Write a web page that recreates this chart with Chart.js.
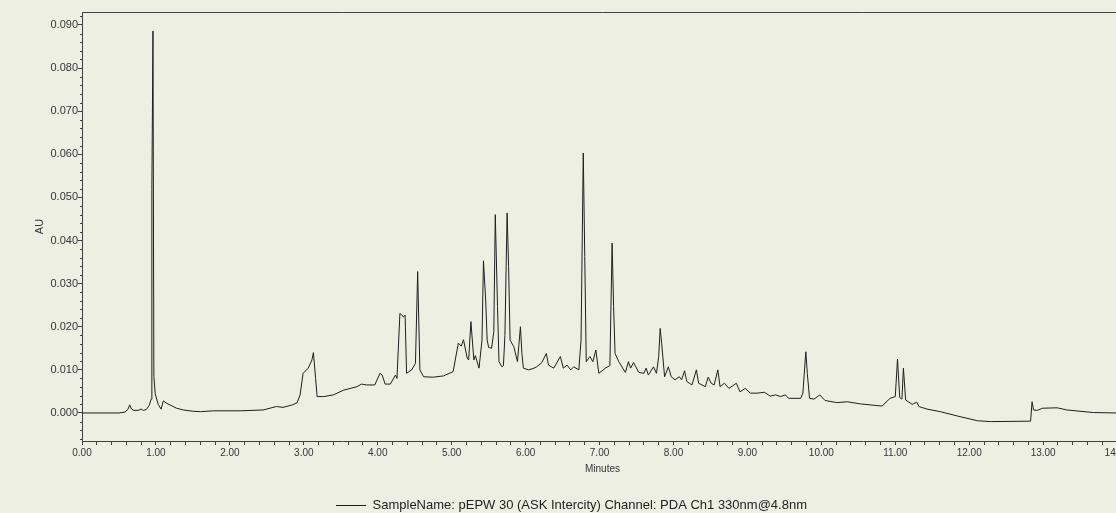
<!DOCTYPE html>
<html>
<head>
<meta charset="utf-8">
<script src="https://cdn.jsdelivr.net/npm/chart.js"></script>
<style>
  html, body { margin: 0; padding: 0; background: #ECEFE1; overflow: hidden; }
  #wrap { width: 1123px; height: 522px; }
</style>
</head>
<body>
<div id="wrap"><canvas id="chrom" width="1123" height="522"></canvas></div>
<script>
// retention time (minutes) and absorbance (AU)
const minutes = [
  0.00, 0.50, 0.58, 0.62, 0.645, 0.67, 0.70, 0.76, 0.80, 0.83, 0.87, 0.91, 0.935, 0.945, 0.96, 0.972, 0.99,
  1.03, 1.07, 1.10, 1.15, 1.28, 1.37, 1.50, 1.60, 1.78, 2.14, 2.45, 2.63, 2.72, 2.85, 2.91, 2.95, 2.99,
  3.06, 3.11, 3.13, 3.16, 3.18, 3.27, 3.40, 3.54, 3.72, 3.78, 3.85, 3.96,
  4.03, 4.06, 4.10, 4.17, 4.24, 4.26, 4.30, 4.35, 4.37, 4.39, 4.46, 4.51, 4.54, 4.57, 4.62, 4.75, 4.89,
  5.02, 5.09, 5.13, 5.16, 5.21, 5.23, 5.26, 5.30, 5.32, 5.37, 5.41, 5.43, 5.46, 5.48, 5.50, 5.54, 5.57,
  5.59, 5.62, 5.64, 5.68, 5.70, 5.72, 5.75, 5.77, 5.79, 5.84, 5.89, 5.93, 5.95, 5.97,
  6.04, 6.10, 6.15, 6.22, 6.28, 6.31, 6.38, 6.47, 6.51, 6.56, 6.61, 6.65, 6.72, 6.75, 6.78, 6.80, 6.82,
  6.87, 6.91, 6.95, 6.99, 7.08, 7.14, 7.17, 7.19, 7.21, 7.26, 7.35, 7.39, 7.42, 7.46, 7.53,
  7.60, 7.63, 7.66, 7.73, 7.77, 7.80, 7.82, 7.84, 7.88, 7.93, 7.97,
  8.02, 8.08, 8.11, 8.15, 8.18, 8.25, 8.31, 8.34, 8.43, 8.47, 8.51, 8.55, 8.60, 8.63, 8.69, 8.75, 8.85, 8.90, 8.97,
  9.04, 9.13, 9.23, 9.31, 9.38, 9.45, 9.51, 9.56, 9.72, 9.75, 9.79, 9.81, 9.84, 9.90, 9.98,
  10.05, 10.21, 10.35, 10.53, 10.82, 10.93, 11.00, 11.03, 11.06, 11.09, 11.11, 11.14, 11.23, 11.29, 11.32,
  11.43, 11.61, 11.84, 12.11, 12.29, 12.83, 12.85, 12.87, 12.92, 12.99, 13.19, 13.32, 13.68, 14.00, 14.08
];
const absorbance = [
  0.0000, 0.0000, 0.0002, 0.0008, 0.0019, 0.0009, 0.0006, 0.0006, 0.0009, 0.0006, 0.0008, 0.0018, 0.0032, 0.0518, 0.0886, 0.0085, 0.0045,
  0.0020, 0.0009, 0.0028, 0.0022, 0.0011, 0.0007, 0.0004, 0.0003, 0.0005, 0.0005, 0.0007, 0.0015, 0.0013, 0.0019, 0.0024, 0.0042, 0.0092,
  0.0104, 0.0123, 0.0140, 0.0080, 0.0038, 0.0038, 0.0042, 0.0053, 0.0061, 0.0067, 0.0065, 0.0065,
  0.0092, 0.0088, 0.0067, 0.0067, 0.0088, 0.0080, 0.0231, 0.0223, 0.0227, 0.0092, 0.0100, 0.0115, 0.0328, 0.0100, 0.0084, 0.0083, 0.0086,
  0.0096, 0.0162, 0.0155, 0.0170, 0.0127, 0.0123, 0.0212, 0.0123, 0.0133, 0.0104, 0.0169, 0.0353, 0.0262, 0.0169, 0.0152, 0.0150, 0.0189,
  0.0460, 0.0247, 0.0119, 0.0107, 0.0110, 0.0180, 0.0464, 0.0340, 0.0169, 0.0154, 0.0119, 0.0200, 0.0138, 0.0104,
  0.0100, 0.0103, 0.0107, 0.0117, 0.0138, 0.0111, 0.0104, 0.0131, 0.0104, 0.0111, 0.0100, 0.0107, 0.0100, 0.0169, 0.0603, 0.0363, 0.0119,
  0.0131, 0.0119, 0.0146, 0.0092, 0.0104, 0.0110, 0.0394, 0.0247, 0.0138, 0.0119, 0.0094, 0.0119, 0.0104, 0.0117, 0.0094,
  0.0092, 0.0104, 0.0088, 0.0107, 0.0092, 0.0131, 0.0196, 0.0162, 0.0084, 0.0107, 0.0084,
  0.0077, 0.0084, 0.0077, 0.0098, 0.0073, 0.0065, 0.0100, 0.0069, 0.0061, 0.0083, 0.0069, 0.0065, 0.0100, 0.0061, 0.0069, 0.0057, 0.0069, 0.0049, 0.0057,
  0.0046, 0.0046, 0.0048, 0.0039, 0.0042, 0.0038, 0.0042, 0.0034, 0.0034, 0.0046, 0.0142, 0.0092, 0.0034, 0.0032, 0.0042,
  0.0029, 0.0024, 0.0026, 0.0021, 0.0016, 0.0034, 0.0038, 0.0125, 0.0036, 0.0032, 0.0104, 0.0030, 0.0020, 0.0025, 0.0015,
  0.0009, 0.0003, -0.0007, -0.0018, -0.0020, -0.0019, 0.0026, 0.0007, 0.0006, 0.0011, 0.0012, 0.0007, 0.0001, 0.0000, 0.0000
];
const seriesLabel = 'SampleName: pEPW 30 (ASK Intercity) Channel: PDA Ch1 330nm@4.8nm';
const xTitle = 'Minutes';
const yTitle = 'AU';

const axisColor = '#404040';
const textColor = '#33363d';

function isMajorY(v) {
  return Math.abs(v * 100 - Math.round(v * 100)) < 1e-6;
}
function isMajorX(v) {
  return Math.abs(v - Math.round(v)) < 1e-6;
}

// top border + short minor ticks on the AU axis
const frame = {
  id: 'frame',
  afterDraw(chart) {
    const { ctx, chartArea: a, scales: { y } } = chart;
    ctx.save();
    ctx.strokeStyle = axisColor;
    ctx.lineWidth = 1;
    ctx.beginPath();
    ctx.moveTo(a.left, a.top + 0.5);
    ctx.lineTo(a.right, a.top + 0.5);
    y.ticks.forEach(t => {
      if (isMajorY(t.value)) return;
      const py = Math.round(y.getPixelForValue(t.value)) + 0.5;
      ctx.moveTo(a.left - 2, py);
      ctx.lineTo(a.left, py);
    });
    ctx.stroke();
    ctx.restore();
  }
};

Chart.defaults.font.family = '"Liberation Sans", Arial, sans-serif';
Chart.defaults.font.size = 11;
Chart.defaults.color = textColor;

new Chart(document.getElementById('chrom'), {
  type: 'line',
  data: {
    datasets: [{
      label: seriesLabel,
      data: minutes.map((t, i) => ({ x: t, y: absorbance[i] })),
      borderColor: '#1e1e1e',
      borderWidth: 1,
      pointRadius: 0,
      pointStyle: 'line',
      tension: 0,
      fill: false
    }]
  },
  options: {
    responsive: false,
    animation: false,
    devicePixelRatio: 1,
    layout: { padding: { top: 12, right: 0, bottom: 0, left: 20 } },
    scales: {
      x: {
        type: 'linear',
        min: 0,
        max: 14.08,
        afterFit: s => { s.height = 48; s.paddingRight = 0; s.paddingLeft = 0; },
        border: { display: true, color: axisColor, width: 1 },
        grid: { drawOnChartArea: false, drawTicks: true, tickLength: 4, tickColor: axisColor },
        ticks: {
          stepSize: 0.2,
          includeBounds: false,
          autoSkip: false,
          maxRotation: 0,
          padding: 2,
          font: { size: 10 },
          callback: v => isMajorX(v) ? v.toFixed(2) : ''
        },
        title: { display: true, text: xTitle, font: { size: 10 }, padding: { top: 0, bottom: 14 } }
      },
      y: {
        min: -0.0065,
        max: 0.093,
        afterFit: s => { s.width = 62; },
        border: { display: true, color: axisColor, width: 1 },
        grid: {
          drawOnChartArea: false,
          drawTicks: true,
          tickLength: 4,
          tickColor: c => (c.tick && isMajorY(c.tick.value)) ? axisColor : 'rgba(0,0,0,0)'
        },
        ticks: {
          stepSize: 0.002,
          includeBounds: false,
          autoSkip: false,
          padding: 0,
          font: { size: 11 },
          callback: v => isMajorY(v) ? v.toFixed(3) : ''
        },
        title: { display: true, text: yTitle, font: { size: 11 }, padding: { top: 13, bottom: 0 } }
      }
    },
    plugins: {
      legend: {
        position: 'bottom',
        labels: {
          usePointStyle: true,
          pointStyle: 'line',
          pointStyleWidth: 30,
          padding: 10,
          color: '#222',
          font: { size: 13 }
        }
      },
      tooltip: { enabled: false }
    }
  },
  plugins: [frame]
});
</script>
</body>
</html>
